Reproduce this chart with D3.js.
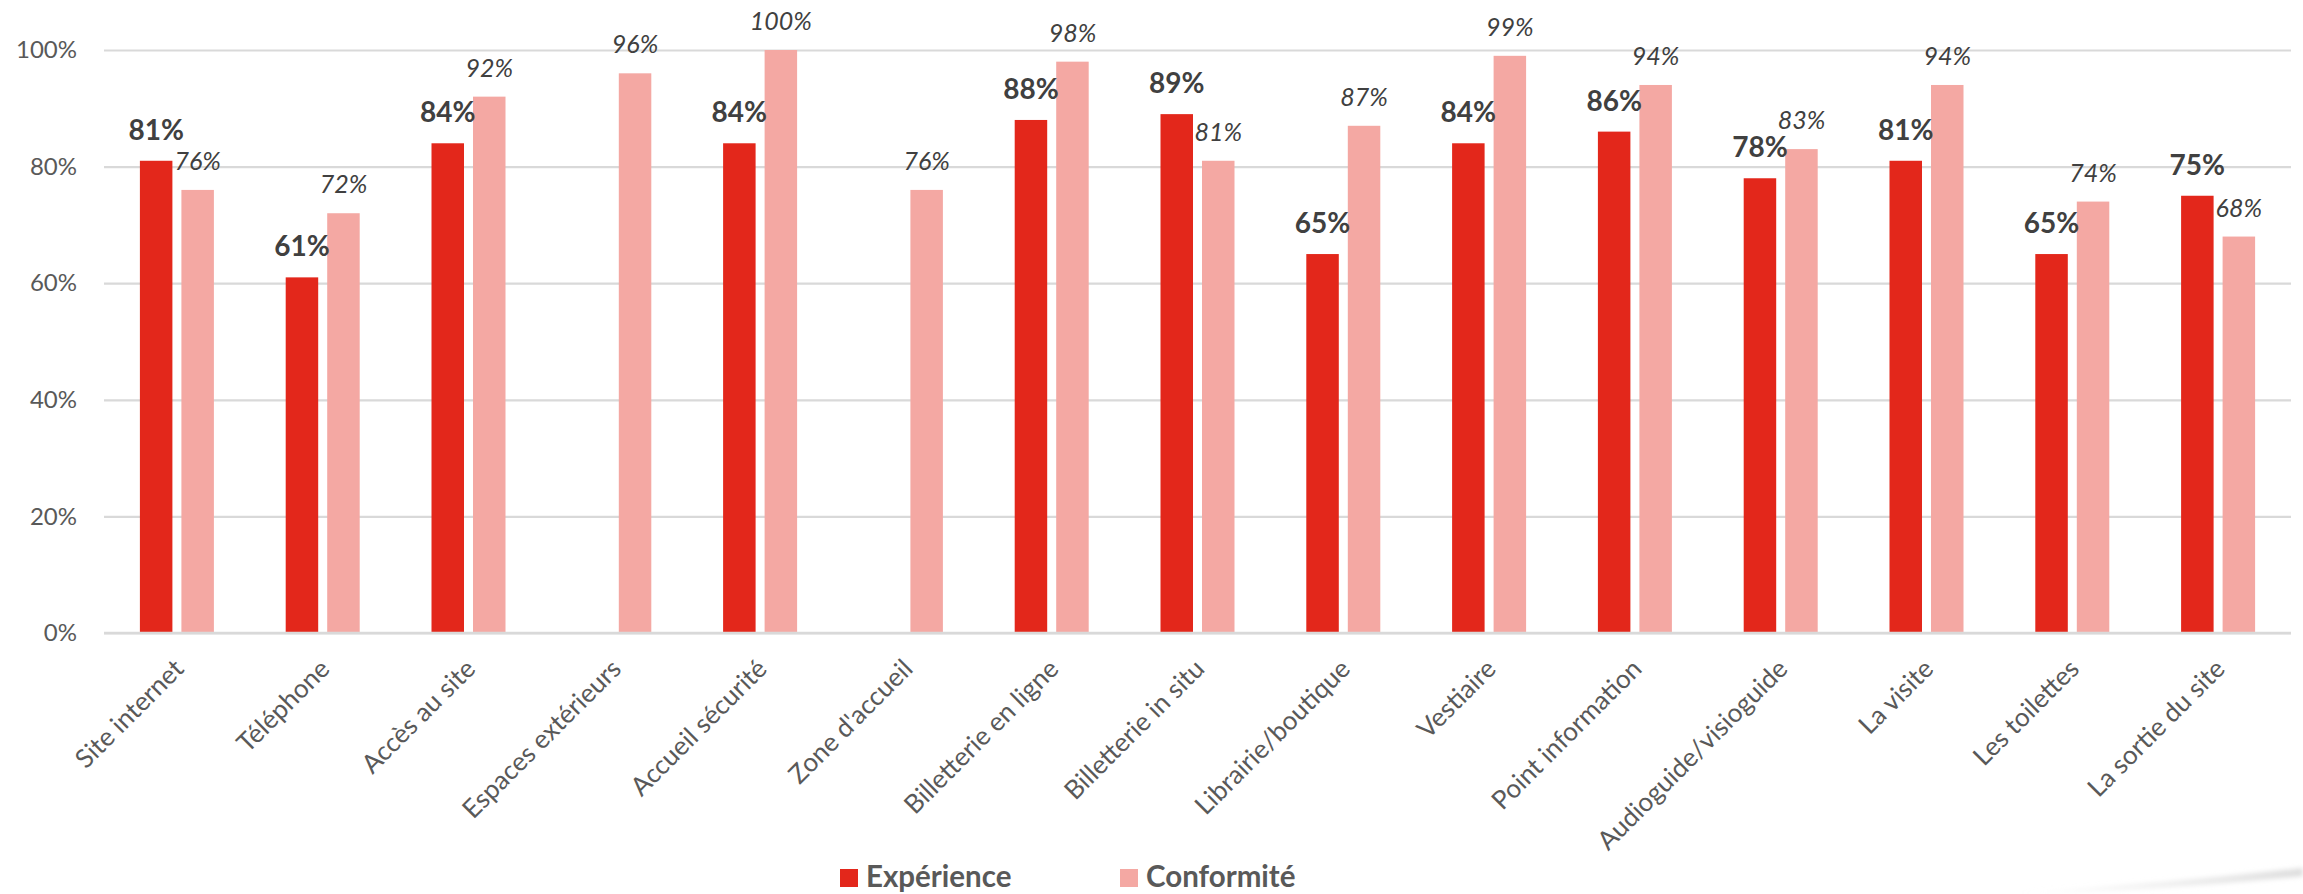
<!DOCTYPE html>
<html>
<head>
<meta charset="utf-8">
<script src="https://cdn.jsdelivr.net/npm/d3@7"></script>
<style>
  html, body { margin: 0; padding: 0; background: #ffffff; }
  svg { display: block; }
  text { font-family: Lato, "Open Sans", sans-serif; }
</style>
</head>
<body>
<svg id="chart" width="2303" height="894"></svg>
<script>
// ---- data ----
const categories = ["Site internet", "Téléphone", "Accès au site", "Espaces extérieurs", "Accueil sécurité",
  "Zone d'accueil", "Billetterie en ligne", "Billetterie in situ", "Librairie/boutique", "Vestiaire",
  "Point information", "Audioguide/visioguide", "La visite", "Les toilettes", "La sortie du site"];
const experience = [0.81, 0.61, 0.84, null, 0.84, null, 0.88, 0.89, 0.65, 0.84, 0.86, 0.78, 0.81, 0.65, 0.75];
const conformite = [0.76, 0.72, 0.92, 0.96, 1.00, 0.76, 0.98, 0.81, 0.87, 0.99, 0.94, 0.83, 0.94, 0.74, 0.68];
const seriesNames = ["Expérience", "Conformité"];
const yTicks = [0, 0.2, 0.4, 0.6, 0.8, 1.0];

const colors = { "Expérience": "#E3271B", "Conformité": "#F4A8A3" };

// ---- layout ----
const svg = d3.select("#chart");
const plotLeft = 104, plotRight = 2291, yTop = 50, yBottom = 633;

// faint page-curl shadow (bottom right)
const defs = svg.append("defs");
const blur = defs.append("filter").attr("id", "blur").attr("x", "-20%").attr("y", "-200%").attr("width", "140%").attr("height", "500%");
blur.append("feGaussianBlur").attr("stdDeviation", 2.5);
const grad = defs.append("linearGradient").attr("id", "shadowGrad").attr("x1", "0").attr("x2", "1");
grad.append("stop").attr("offset", "0").attr("stop-color", "#e6e6e6").attr("stop-opacity", 0);
grad.append("stop").attr("offset", "0.6").attr("stop-color", "#e6e6e6").attr("stop-opacity", 0.8);
grad.append("stop").attr("offset", "1").attr("stop-color", "#dcdcdc").attr("stop-opacity", 1);
svg.append("path")
  .attr("d", "M2020,893 Q2160,884 2303,868 L2303,876 Q2160,890 2020,894 Z")
  .attr("fill", "url(#shadowGrad)").attr("filter", "url(#blur)");

const x0 = d3.scaleBand().domain(categories).range([plotLeft, plotRight]).paddingInner(0).paddingOuter(0);
const x1 = d3.scaleBand().domain(seriesNames).range([35.9, x0.bandwidth() - 35.9]).paddingInner(0.217).paddingOuter(0);
const y = d3.scaleLinear().domain([0, 1]).range([yBottom, yTop]);

// gridlines + y tick labels
const yAxis = d3.axisLeft(y).tickValues(yTicks).tickFormat(d3.format(".0%"))
  .tickSize(-(plotRight - plotLeft)).tickPadding(27);
const gy = svg.append("g").attr("transform", `translate(${plotLeft},0)`).call(yAxis);
gy.select(".domain").remove();
gy.selectAll(".tick line").attr("stroke", "#D9D9D9").attr("stroke-width", 2.2);
gy.selectAll(".tick text").attr("fill", "#595959").attr("font-size", 24).attr("font-family", "Lato, sans-serif");

// bars
const rows = categories.map((c, i) => ({ cat: c, vals: [
  { s: "Expérience", v: experience[i] },
  { s: "Conformité", v: conformite[i] }
].filter(d => d.v !== null) }));

const groups = svg.append("g").selectAll("g").data(rows).join("g")
  .attr("transform", d => `translate(${x0(d.cat)},0)`);

groups.selectAll("rect").data(d => d.vals).join("rect")
  .attr("x", d => x1(d.s))
  .attr("width", x1.bandwidth())
  .attr("y", d => y(d.v))
  .attr("height", d => y(0) - y(d.v))
  .attr("fill", d => colors[d.s]);

// data labels
groups.selectAll("text.lbl").data(d => d.vals).join("text")
  .attr("class", "lbl")
  .attr("x", d => x1(d.s) + x1.bandwidth() / 2)
  .attr("y", d => y(d.v) - (d.s === "Expérience" ? 21 : 20))
  .attr("text-anchor", "middle")
  .attr("fill", "#404040")
  .attr("font-size", d => d.s === "Expérience" ? 28 : 25)
  .attr("font-weight", d => d.s === "Expérience" ? "bold" : "normal")
  .attr("font-style", d => d.s === "Expérience" ? "normal" : "italic")
  .text(d => d3.format(".0%")(d.v));

// x axis baseline redraw (slightly heavier)
svg.append("line").attr("x1", plotLeft).attr("x2", plotRight).attr("y1", y(0)).attr("y2", y(0))
  .attr("stroke", "#D9D9D9").attr("stroke-width", 2.5);

// category labels
const xAxis = d3.axisBottom(x0).tickSize(0).tickPadding(0);
const gx = svg.append("g").attr("transform", `translate(0,${yBottom})`).call(xAxis);
gx.select(".domain").remove();
gx.selectAll(".tick text")
  .attr("fill", "#595959")
  .attr("font-size", 26)
  .attr("font-family", "Lato, sans-serif")
  .attr("text-anchor", "end")
  .attr("dy", "0.35em")
  .attr("transform", "translate(2,31) rotate(-45)");

// legend
const legendX = [840, 1120];
const lg = svg.append("g").selectAll("g").data(seriesNames).join("g")
  .attr("transform", (d, i) => `translate(${legendX[i]},869)`);
lg.append("rect").attr("width", 18).attr("height", 18).attr("fill", d => colors[d]);
lg.append("text").attr("x", 26).attr("y", 18)
  .attr("fill", "#595959").attr("font-size", 29.5).attr("font-weight", "bold")
  .text(d => d);
</script>
</body>
</html>
